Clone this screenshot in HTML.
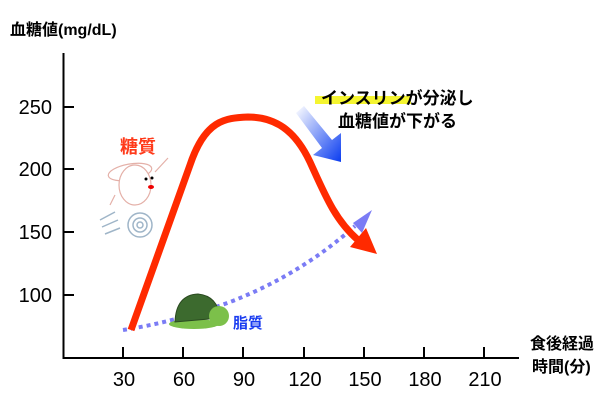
<!DOCTYPE html>
<html><head><meta charset="utf-8"><style>
body{margin:0;background:#fff;}
svg{display:block;font-family:"Liberation Sans","Noto Sans CJK JP",sans-serif;}
</style></head><body>
<svg width="600" height="400" viewBox="0 0 600 400">
<defs>
<linearGradient id="bg" x1="0" y1="0" x2="1" y2="1">
<stop offset="0" stop-color="#fff"/><stop offset="1" stop-color="#0a3cf0"/></linearGradient>
</defs>
<path d="M63.5 53V358H519" fill="none" stroke="#000" stroke-width="2"/>
<g stroke="#000" stroke-width="2">
<line x1="63" y1="107" x2="74" y2="107"/><line x1="63" y1="169" x2="74" y2="169"/>
<line x1="63" y1="232" x2="74" y2="232"/><line x1="63" y1="295" x2="74" y2="295"/>
<line x1="123" y1="347" x2="123" y2="358"/><line x1="183" y1="347" x2="183" y2="358"/>
<line x1="243" y1="347" x2="243" y2="358"/><line x1="304" y1="347" x2="304" y2="358"/>
<line x1="364" y1="347" x2="364" y2="358"/><line x1="424" y1="347" x2="424" y2="358"/>
<line x1="484" y1="347" x2="484" y2="358"/>
</g>
<g font-size="20" text-anchor="end" fill="#000">
<text x="52" y="114">250</text><text x="52" y="176">200</text>
<text x="52" y="239">150</text><text x="52" y="302">100</text>
</g>
<g font-size="20" text-anchor="middle" fill="#000">
<text x="124" y="386">30</text><text x="184" y="386">60</text><text x="244" y="386">90</text>
<text x="305" y="386">120</text><text x="365" y="386">150</text><text x="425" y="386">180</text>
<text x="485" y="386">210</text>
</g>
<text x="10" y="35" font-size="16" font-weight="bold">血糖値(mg/dL)</text>
<text x="530" y="349" font-size="16" font-weight="bold">食後経過</text>
<text x="532" y="372" font-size="16" font-weight="bold">時間(分)</text>
<path d="M123 330 Q175 322 230 302 Q300 275 355 226" fill="none" stroke="#7b7cf5" stroke-width="4" stroke-dasharray="4 4"/>
<polygon points="372,210 353,223 362,233" fill="#7b7cf5"/>
<path d="M131 330 L190 165 C205 120 225 118 248 117 C275 117 295 130 310 162 C325 195 335 220 358 240" fill="none" stroke="#ff2a00" stroke-width="7" stroke-linejoin="round"/>
<polygon points="377,254 350,247 366,228" fill="#ff2a00"/>
<polygon points="296,113 304,106 332,140 341,133 341,162 313,155 322,148" fill="url(#bg)"/>
<rect x="315" y="96" width="96" height="8" fill="#f5f530"/>
<text x="321" y="104" font-size="17" font-weight="bold">インスリンが分泌し</text>
<text x="338" y="127" font-size="17" font-weight="bold">血糖値が下がる</text>
<text x="120" y="153" font-size="18" font-weight="bold" fill="#ff3a1a">糖質</text>
<text x="233" y="328" font-size="15" font-weight="bold" fill="#1a3cf0">脂質</text>
<g fill="#fff" stroke="#e4b0a8" stroke-width="1.2">
<ellipse cx="130" cy="172" rx="22" ry="8" transform="rotate(-10 130 172)"/>
<ellipse cx="135" cy="185" rx="16" ry="20"/>
<path d="M155 172 L168 158"/>
<path d="M115 195 L110 205"/>
</g>
<circle cx="146" cy="179" r="1.5" fill="#000"/><circle cx="152" cy="178" r="1.5" fill="#000"/>
<ellipse cx="151" cy="187" rx="3" ry="2" fill="#e00"/>
<g fill="none" stroke="#9fb5c8" stroke-width="1.5">
<circle cx="140" cy="225" r="12"/><circle cx="140" cy="225" r="7"/><circle cx="140" cy="225" r="3"/>
<path d="M100 220 L115 212 M102 227 L118 220 M105 234 L120 228"/>
</g>
<ellipse cx="194" cy="324" rx="25" ry="5" fill="#7cc04a"/>
<path d="M175 322 Q176 295 198 294 Q218 296 220 318 Z" fill="#3c6a2e" stroke="#2a4a20"/>
<circle cx="219" cy="316" r="10" fill="#7cc04a"/>
</svg>
</body></html>
